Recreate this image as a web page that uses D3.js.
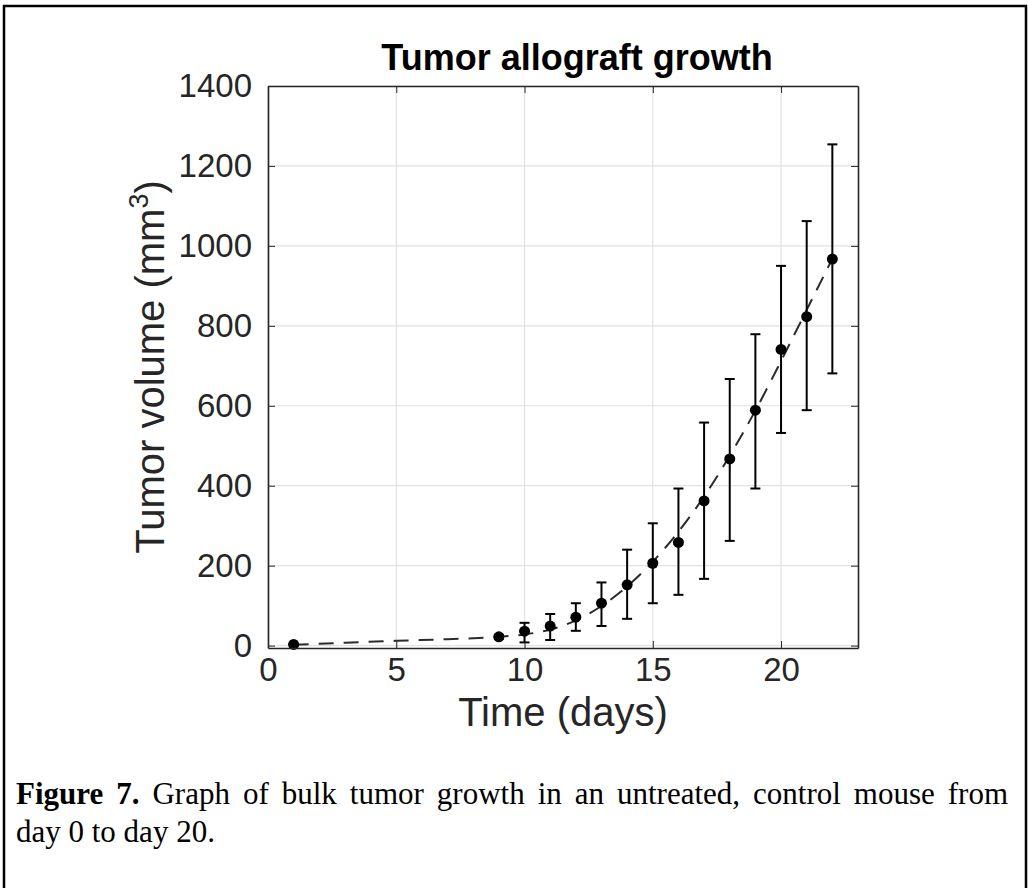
<!DOCTYPE html>
<html>
<head>
<meta charset="utf-8">
<script src="https://cdn.jsdelivr.net/npm/d3@7"></script>
<style>
  body { margin: 0; background: #fff; }
  svg { display: block; }
  .axis text { fill: #262626; font-family: "Liberation Sans", Arial, sans-serif; font-size: 33px; }
  .axis path, .axis line { stroke: #262626; }
</style>
</head>
<body>
<svg id="chart" width="1028" height="888"></svg>
<script>
const days = [1, 9, 10, 11, 12, 13, 14, 15, 16, 17, 18, 19, 20, 21, 22];
const meanVol = [3, 22, 36, 49, 71, 106, 152, 206, 258, 362, 467, 589, 741, 823, 967];
const lowerVol = [3, 17, 8, 14, 37, 49, 67, 106, 127, 167, 262, 393, 532, 589, 681];
const upperVol = [3, 27, 57, 79, 106, 158, 240, 306, 393, 558, 667, 779, 950, 1062, 1254];

// dashed fit curve, sampled from the figure
const fitDays = [1, 3, 5, 7, 9, 10, 11, 12, 13, 14, 15, 16, 17, 18, 19, 20, 21, 22];
const fitVol = [2, 7, 12, 16, 22, 28, 40, 63, 99, 148, 210, 285, 373, 475, 588, 712, 840, 968];

const xTicks = [0, 5, 10, 15, 20];
const yTicks = [0, 200, 400, 600, 800, 1000, 1200, 1400];

const svg = d3.select('#chart');

const x = d3.scaleLinear().domain([0, 23]).range([268, 858]);
const y = d3.scaleLinear().domain([-6, 1400]).range([648, 86]);

// page frame
svg.append('rect')
  .attr('x', 4).attr('y', 6)
  .attr('width', 1022).attr('height', 900)
  .attr('fill', 'none')
  .attr('stroke', '#000')
  .attr('stroke-width', 2.5);

// grid
const grid = svg.append('g').attr('stroke', '#e2e2e2').attr('stroke-width', 1.2);
grid.selectAll('line.gx')
  .data(xTicks)
  .join('line')
  .attr('x1', (d) => x(d)).attr('x2', (d) => x(d))
  .attr('y1', y.range()[0]).attr('y2', y.range()[1]);
grid.selectAll('line.gy')
  .data(yTicks)
  .join('line')
  .attr('y1', (d) => y(d)).attr('y2', (d) => y(d))
  .attr('x1', x.range()[0]).attr('x2', x.range()[1]);

// fit curve
const line = d3.line()
  .x((d, i) => x(fitDays[i]))
  .y((d) => y(d))
  .curve(d3.curveMonotoneX);

svg.append('path')
  .datum(fitVol)
  .attr('d', line)
  .attr('fill', 'none')
  .attr('stroke', '#2b2b2b')
  .attr('stroke-width', 2)
  .attr('stroke-dasharray', '15 10');

// error bars
const points = days.map((d, i) => ({ day: d, mean: meanVol[i], lo: lowerVol[i], hi: upperVol[i] }));
const bars = svg.append('g').attr('stroke', '#000').attr('stroke-width', 2);
const capW = 5;

bars.selectAll('line.stem')
  .data(points)
  .join('line')
  .attr('x1', (d) => x(d.day)).attr('x2', (d) => x(d.day))
  .attr('y1', (d) => y(d.lo)).attr('y2', (d) => y(d.hi));
bars.selectAll('line.top')
  .data(points)
  .join('line')
  .attr('x1', (d) => x(d.day) - capW).attr('x2', (d) => x(d.day) + capW)
  .attr('y1', (d) => y(d.hi)).attr('y2', (d) => y(d.hi));
bars.selectAll('line.bottom')
  .data(points)
  .join('line')
  .attr('x1', (d) => x(d.day) - capW).attr('x2', (d) => x(d.day) + capW)
  .attr('y1', (d) => y(d.lo)).attr('y2', (d) => y(d.lo));

svg.append('g')
  .selectAll('circle')
  .data(points)
  .join('circle')
  .attr('cx', (d) => x(d.day))
  .attr('cy', (d) => y(d.mean))
  .attr('r', 5.5)
  .attr('fill', '#000');

// axes (box with inward ticks)
const tick = -7;
svg.append('g')
  .attr('class', 'axis')
  .attr('transform', `translate(0,${y.range()[0]})`)
  .call(d3.axisBottom(x).tickValues(xTicks).tickSize(tick).tickSizeOuter(0).tickPadding(10))
  .call((g) => g.select('.domain').attr('stroke-width', 1.6));
svg.append('g')
  .attr('class', 'axis')
  .attr('transform', `translate(${x.range()[0]},0)`)
  .call(d3.axisLeft(y).tickValues(yTicks).tickSize(tick).tickSizeOuter(0).tickPadding(16).tickFormat(d3.format('d')))
  .call((g) => g.select('.domain').attr('stroke-width', 1.6));
svg.append('g')
  .attr('class', 'axis')
  .attr('transform', `translate(0,${y.range()[1]})`)
  .call(d3.axisTop(x).tickValues(xTicks).tickSize(tick).tickSizeOuter(0).tickFormat(''))
  .call((g) => g.select('.domain').attr('stroke-width', 1.6));
svg.append('g')
  .attr('class', 'axis')
  .attr('transform', `translate(${x.range()[1]},0)`)
  .call(d3.axisRight(y).tickValues(yTicks).tickSize(tick).tickSizeOuter(0).tickFormat(''))
  .call((g) => g.select('.domain').attr('stroke-width', 1.6));

// title and axis labels
const cx = (x.range()[0] + x.range()[1]) / 2;
svg.append('text')
  .attr('x', 577).attr('y', 70)
  .attr('text-anchor', 'middle')
  .attr('font-family', '"Liberation Sans", Arial, sans-serif')
  .attr('font-size', 36)
  .attr('font-weight', 'bold')
  .attr('fill', '#000')
  .text('Tumor allograft growth');

svg.append('text')
  .attr('x', cx).attr('y', 726)
  .attr('text-anchor', 'middle')
  .attr('font-family', '"Liberation Sans", Arial, sans-serif')
  .attr('font-size', 40)
  .attr('fill', '#262626')
  .text('Time (days)');

const yLabel = svg.append('text')
  .attr('transform', `translate(164,${(y.range()[0] + y.range()[1]) / 2}) rotate(-90)`)
  .attr('text-anchor', 'middle')
  .attr('font-family', '"Liberation Sans", Arial, sans-serif')
  .attr('font-size', 40)
  .attr('fill', '#262626');
yLabel.append('tspan').text('Tumor volume (mm');
yLabel.append('tspan').attr('font-size', 27).attr('dy', -16).text('3');
yLabel.append('tspan').attr('dy', 16).text(')');

// caption
const serif = '"Liberation Serif", "Times New Roman", serif';
const cap1 = svg.append('text')
  .attr('x', 16).attr('y', 804)
  .attr('font-family', serif)
  .attr('font-size', 31)
  .attr('fill', '#000');
cap1.append('tspan').attr('font-weight', 'bold').text('Figure 7.');
cap1.append('tspan').text(' Graph of bulk tumor growth in an untreated, control mouse from');

const natural = cap1.node().getComputedTextLength();
const gaps = 12;
cap1.attr('word-spacing', Math.max(0, (1008 - 16 - natural) / gaps));

svg.append('text')
  .attr('x', 16).attr('y', 842)
  .attr('font-family', serif)
  .attr('font-size', 31)
  .attr('fill', '#000')
  .text('day 0 to day 20.');
</script>
</body>
</html>
